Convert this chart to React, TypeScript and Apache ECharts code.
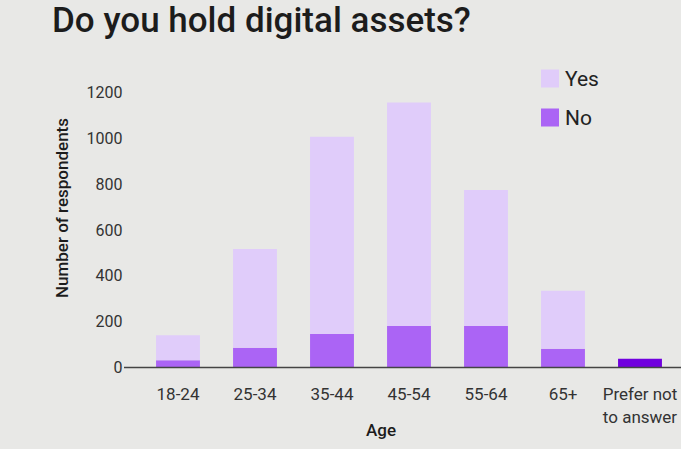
import { useEffect, useRef } from 'react';
import * as echarts from 'echarts';

const categories = ['18-24', '25-34', '35-44', '45-54', '55-64', '65+', 'Prefer not\nto answer'];
const yesValues = [109, 431, 862, 976, 594, 253, null];
const noValues = [32, 86, 146, 181, 181, 82, null];
const preferValues = [null, null, null, null, null, null, 38];
const yTicks = { min: 0, max: 1200, interval: 200 };

const FONT = 'Roboto, "Noto Sans", sans-serif';

export default function App() {
  const chartRef = useRef<HTMLDivElement>(null);

  useEffect(() => {
    document.body.style.margin = '0';
    if (!chartRef.current) return;
    const chart = echarts.init(chartRef.current, null, { renderer: 'svg' });

    chart.setOption({
      animation: false,
      backgroundColor: '#e8e8e6',
      textStyle: { fontFamily: FONT },
      title: {
        text: 'Do you hold digital assets?',
        left: 52,
        top: 3,
        padding: 0,
        textStyle: { fontFamily: FONT, fontSize: 35, fontWeight: 500, color: '#1c1c1c' },
      },
      legend: {
        data: ['Yes', 'No'],
        orient: 'vertical',
        left: 541,
        top: 68,
        padding: 0,
        itemWidth: 18,
        itemHeight: 18,
        itemGap: 18,
        itemStyle: { borderWidth: 0 },
        icon: 'rect',
        textStyle: { fontFamily: FONT, fontSize: 21, color: '#222', padding: [0, 0, 0, 1] },
      },
      grid: { left: 139.5, right: 2.5, top: 92.7, bottom: 81.5 },
      xAxis: {
        type: 'category',
        data: categories,
        axisLine: { show: false },
        axisTick: { show: false },
        axisLabel: {
          interval: 0,
          margin: 15,
          fontFamily: FONT,
          fontSize: 17,
          color: '#333',
          lineHeight: 23,
        },
      },
      yAxis: {
        type: 'value',
        min: yTicks.min,
        max: yTicks.max,
        interval: yTicks.interval,
        axisLine: { show: false },
        axisTick: { show: false },
        splitLine: { show: false },
        axisLabel: {
          margin: 17,
          fontFamily: FONT,
          fontSize: 16,
          color: '#333',
          padding: [0, 0, 6, 0],
          formatter: (v: number) => String(v),
        },
      },
      graphic: [
        {
          type: 'line',
          shape: { x1: 124, y1: 367.5, x2: 681, y2: 367.5 },
          style: { stroke: '#444', lineWidth: 1.5 },
          z: 10,
        },
        {
          type: 'text',
          x: 62,
          y: 208,
          rotation: Math.PI / 2,
          style: {
            text: 'Number of respondents',
            fontFamily: FONT,
            fontSize: 17,
            fontWeight: 500,
            fill: '#1c1c1c',
            align: 'center',
            verticalAlign: 'middle',
          },
        },
        {
          type: 'text',
          x: 381,
          y: 430,
          style: {
            text: 'Age',
            fontFamily: FONT,
            fontSize: 17,
            fontWeight: 500,
            fill: '#1c1c1c',
            align: 'center',
            verticalAlign: 'middle',
          },
        },
      ],
      series: [
        {
          name: 'No',
          type: 'bar',
          stack: 'total',
          barWidth: '57%',
          data: noValues,
          itemStyle: { color: '#ab64f5' },
        },
        {
          name: 'Yes',
          type: 'bar',
          stack: 'total',
          data: yesValues,
          itemStyle: { color: '#e0ccfa' },
        },
        {
          name: 'Prefer not to answer',
          type: 'bar',
          stack: 'total',
          data: preferValues,
          itemStyle: { color: '#7000de' },
        },
      ],
    });

    return () => chart.dispose();
  }, []);

  return (
    <div
      ref={chartRef}
      style={{ position: 'fixed', left: 0, top: 0, width: 681, height: 449 }}
    />
  );
}
